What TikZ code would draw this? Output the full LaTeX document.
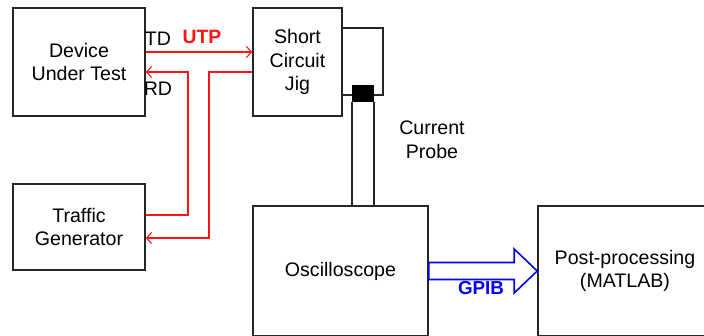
\documentclass[tikz,border=0pt]{standalone}
\usepackage{fontspec}
\setmainfont{Liberation Sans}
\usetikzlibrary{arrows.meta,calc}
\definecolor{lred}{RGB}{255,20,20}
\definecolor{lblue}{RGB}{0,0,255}
\begin{document}
\begin{tikzpicture}[x=1pt,y=-1pt,
  box/.style={draw=black!85,line width=1.6pt,fill=none,inner sep=0pt,align=center,
    font=\fontsize{19.6}{23.5}\selectfont},
  lbl/.style={inner sep=0pt,align=center,font=\fontsize{19.6}{23.5}\selectfont},
  redline/.style={draw=lred,line width=1.5pt},
  redarrow/.style={redline,-{Straight Barb[length=5pt,width=11pt,line width=1.1pt]}},
  blk/.style={draw=black!85,line width=1.6pt}]
\clip (0,0) rectangle (704,335);
\fill[white] (0,0) rectangle (704,335);
% boxes
\node[box,minimum width=132pt,minimum height=108pt] (dut) at (79,62) {Device\\Under Test};
\node[box,minimum width=89pt,minimum height=108pt] (jig) at (297.5,62) {Short\\Circuit\\Jig};
\node[box,minimum width=132pt,minimum height=86pt] (tg) at (79,227) {Traffic\\Generator};
\node[box,minimum width=175pt,minimum height=130pt] (osc) at (340.5,271) {Oscilloscope};
\node[box,minimum width=174pt,minimum height=130pt] (pp) at (625,271) {Post-processing\\(MATLAB)};
% current probe
\node[draw=black,fill=black,line width=1pt,minimum width=21pt,minimum height=16pt,inner sep=0pt] (probe) at (363,93.5) {};
\coordinate (loopA) at (383,28);
\coordinate (loopB) at (383,95);
\draw[blk] (jig.east |- loopA) -- (loopA) -- (loopB) -- (probe.east |- loopB);
\draw[blk] (jig.east |- loopB) -- (probe.west |- loopB);
\draw[blk] (probe.south west) -- (probe.south west |- osc.north);
\draw[blk] (probe.south east) -- (probe.south east |- osc.north);
\node[lbl] (cp) at (432,139.5) {Current\\Probe};
% labels
\node[lbl] (td) at (158,39) {TD};
\node[lbl] (rd) at (158,89) {RD};
\node[lbl,text=lred,font=\bfseries\fontsize{19.3}{22}\selectfont] (utp) at (202,37) {UTP};
% red connectors
\coordinate (t1) at (0,52);
\coordinate (t2) at (0,72);
\coordinate (t3) at (0,215);
\coordinate (t4) at (0,238);
\coordinate (c1) at (188,72);
\coordinate (c2) at (188,215);
\coordinate (c3) at (209,72);
\coordinate (c4) at (209,238);
\draw[redarrow] (dut.east |- t1) -- (jig.west |- t1);
\draw[redarrow] (tg.east |- t3) -- (c2) -- (c1) -- (dut.east |- t2);
\draw[redarrow] (jig.west |- t2) -- (c3) -- (c4) -- (tg.east |- t4);
% GPIB block arrow
\draw[draw=lblue,line width=1.6pt,line join=miter]
  ($(osc.east)+(0,-8.5)$) -- ($(pp.west)+(-23,-8.5)$) -- ($(pp.west)+(-23,-22)$)
  -- (pp.west) -- ($(pp.west)+(-23,22)$) -- ($(pp.west)+(-23,8.5)$)
  -- ($(osc.east)+(0,8.5)$) -- cycle;
\node[lbl,text=lblue,font=\bfseries\fontsize{18.8}{22}\selectfont] (gpib) at (481,288) {GPIB};
\end{tikzpicture}
\end{document}
